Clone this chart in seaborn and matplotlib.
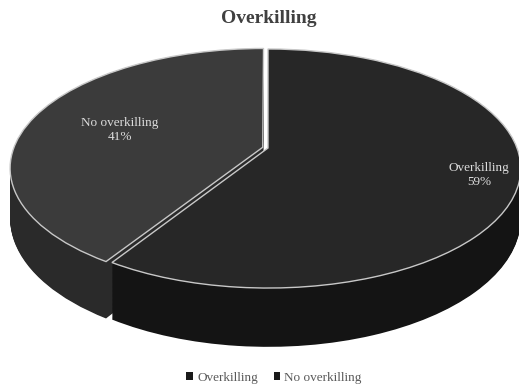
import numpy as np
import matplotlib
matplotlib.use("Agg")
import matplotlib.pyplot as plt
from matplotlib.patches import Patch
from matplotlib.transforms import Transform
import seaborn as sns

# ---- data ----
categories = ["Overkilling", "No overkilling"]
shares = [59, 41]
title = "Overkilling"

# ---- style ----
sns.set_theme(style="white")
plt.rcParams["font.family"] = ["Liberation Serif", "DejaVu Serif"]

top_colors = ["#272727", "#3b3b3b"]
side_colors = ["#141414", "#2a2a2a"]
rim_color = "#c8c8c8"
explode = [0.0, 0.022]


class Perspective(Transform):
    """Projects the flat pie plane (tilted away from the viewer) to the screen."""
    input_dims = 2
    output_dims = 2
    is_separable = False
    has_inverse = False

    def __init__(self, k, drop=0.0):
        super().__init__()
        self.k = k
        self.drop = drop

    def transform_non_affine(self, values):
        values = np.asarray(values, dtype=float)
        u, v = values[:, 0], values[:, 1]
        w = 1.0 + self.k * v
        return np.column_stack([u / w, (v - self.drop) / w])


k = 0.1716
depth = 0.42
n_layers = 70

fig = plt.figure(figsize=(5.19, 3.86), dpi=100)
ax = fig.add_axes([0, 0, 1, 1])

for h in np.linspace(depth, 0.003, n_layers):
    side_wedges, _ = ax.pie(shares, colors=side_colors, startangle=90,
                            counterclock=False, explode=explode,
                            wedgeprops=dict(linewidth=0, edgecolor="none"))
    for wdg in side_wedges:
        wdg.set_transform(Perspective(k, h) + ax.transData)

wedges, _ = ax.pie(shares, colors=top_colors, startangle=90, counterclock=False,
                   explode=explode,
                   wedgeprops=dict(linewidth=1.0, edgecolor=rim_color))
for wdg in wedges:
    wdg.set_transform(Perspective(k, 0.0) + ax.transData)

ax.set_aspect("auto")
ax.set_xlim(-268 / 249, (519 - 268) / 249)
ax.set_ylim(-(386 - 148) / 116, 148 / 116)
ax.axis("off")

label_pos = [(0.847, -0.233), (-0.594, 0.155)]
for (x, y), cat, s in zip(label_pos, categories, shares):
    ax.text(x, y, f"{cat}\n{s}%", ha="center", va="center", fontsize=9.5,
            color="#dcdcdc", linespacing=1.15)

fig.text(0.518, 0.953, title, ha="center", va="center", fontsize=14,
         fontweight="bold", color="#404040")

handles = [Patch(facecolor="#1a1a1a", edgecolor="none") for _ in categories]
fig.legend(handles, categories, loc="lower center", ncol=2, frameon=False,
           fontsize=9.5, labelcolor="#595959", handlelength=0.5,
           handleheight=0.5, handletextpad=0.3, columnspacing=1.2,
           bbox_to_anchor=(0.528, -0.025))

fig.savefig("out.png", dpi=100, facecolor="white")
